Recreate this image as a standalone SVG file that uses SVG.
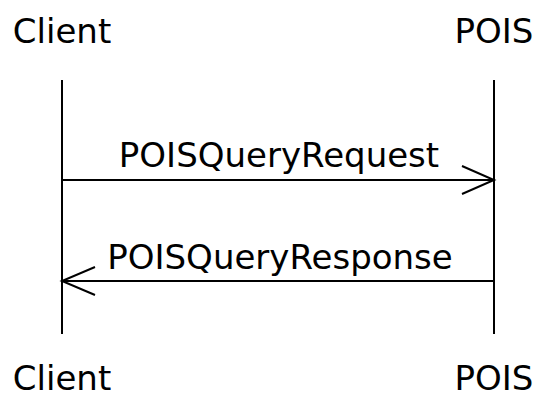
<svg xmlns="http://www.w3.org/2000/svg" width="537" height="396" viewBox="0 0 537 396">
<style>
text{font-family:"DejaVu Sans",sans-serif;font-size:34px;fill:#000;text-anchor:middle}
.l{stroke:#000;stroke-width:2;fill:none}
</style>
<rect width="537" height="396" fill="#fff"/>
<g id="client">
<text x="62" y="43">Client</text>
<line class="l" x1="62" y1="80" x2="62" y2="334"/>
<text x="62" y="390">Client</text>
</g>
<g id="pois">
<text x="494" y="43">POIS</text>
<line class="l" x1="494" y1="80" x2="494" y2="334"/>
<text x="494" y="390">POIS</text>
</g>
<g id="connectors">
<line class="l" x1="62" y1="180" x2="494" y2="180"/>
<polyline class="l" points="462,166 494,180 462,194"/>
<text x="279" y="167">POISQueryRequest</text>
<line class="l" x1="494" y1="281" x2="62" y2="281"/>
<polyline class="l" points="95,267 62,281 95,295"/>
<text x="280" y="269">POISQueryResponse</text>
</g>
</svg>
